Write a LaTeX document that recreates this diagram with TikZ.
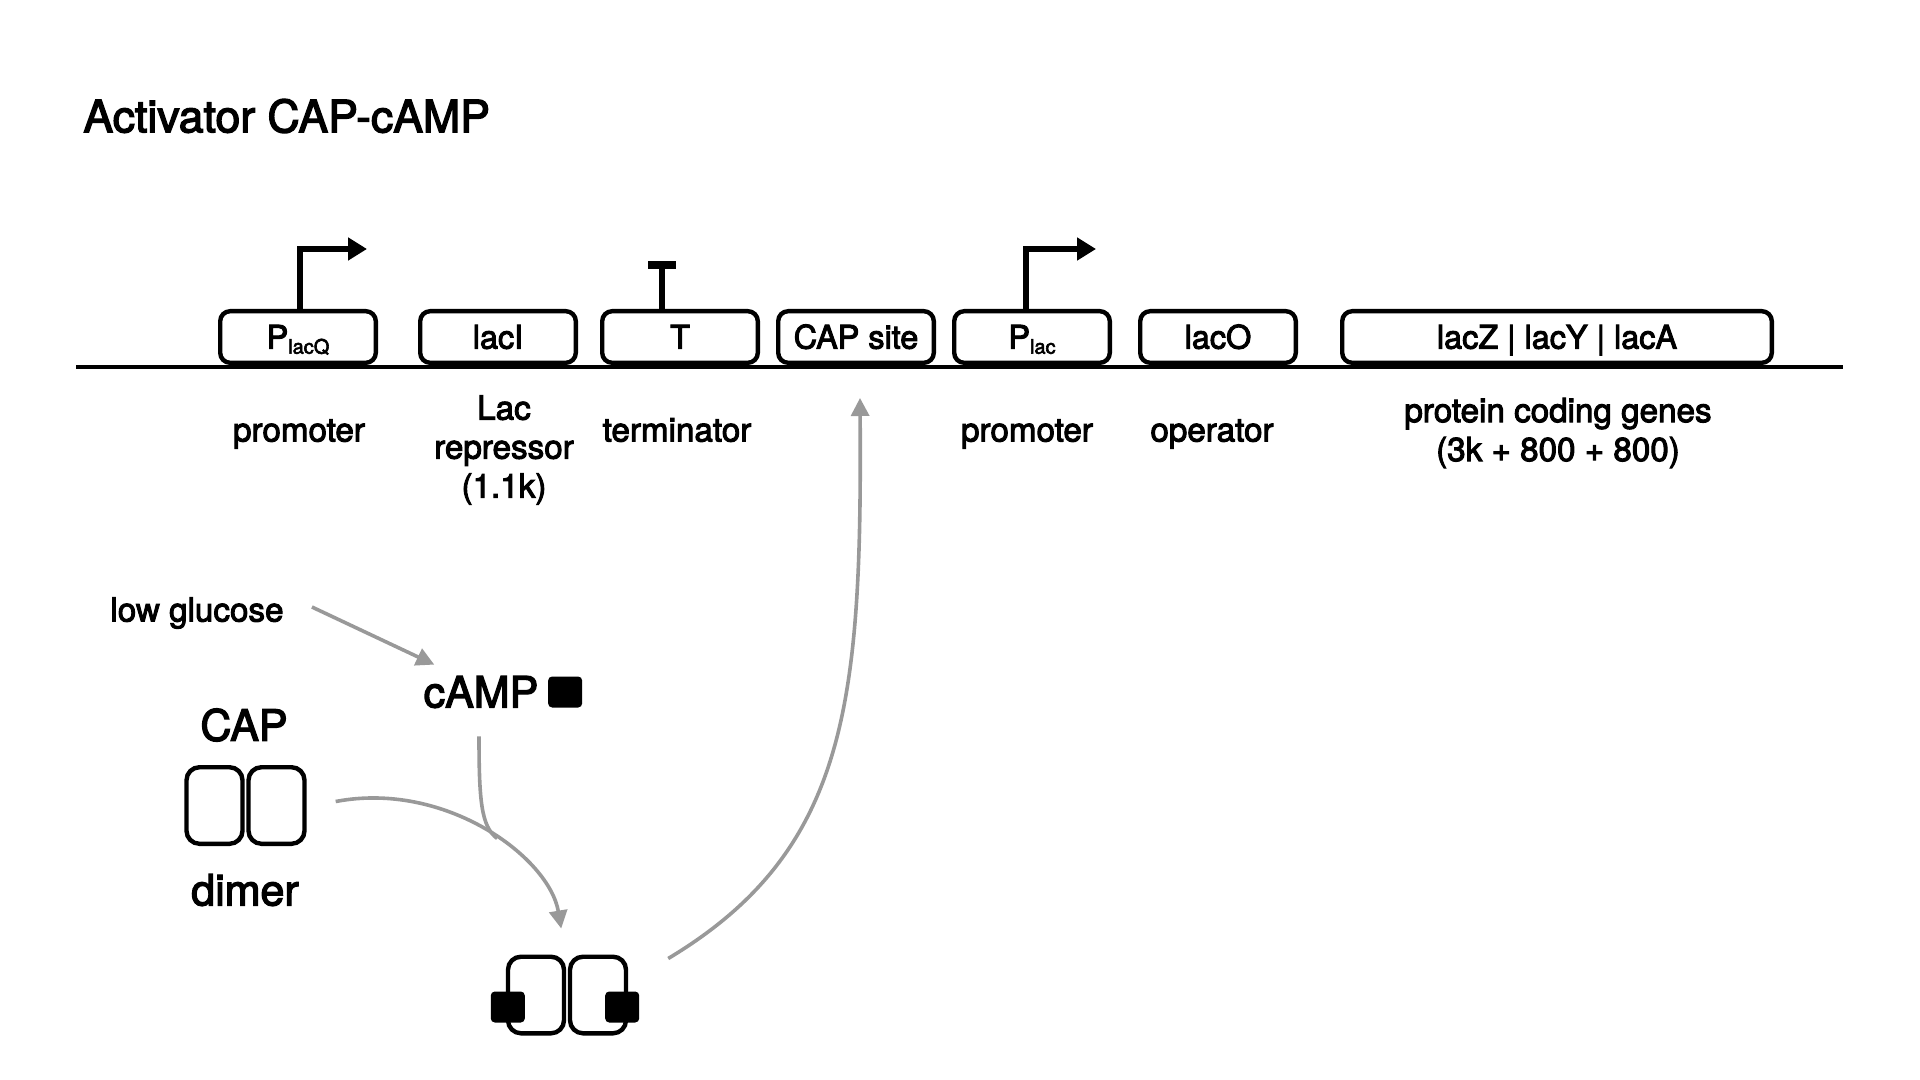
\documentclass[tikz,border=0pt]{standalone}
\usepackage{fontspec}
\setmainfont{TeX Gyre Heros}[FakeBold=3]
\usetikzlibrary{arrows.meta,positioning}

\begin{document}
\begin{tikzpicture}[
x=0.5pt, y=-0.5pt,
part/.style={draw, line width=2.2pt, rounded corners=5pt, fill=white, minimum width=77.8pt, minimum height=25.8pt, inner sep=0pt, text height=11.6pt, text depth=0pt, font=\fontsize{16.2}{19}\selectfont},
lbl/.style={align=center, inner sep=0pt, font=\fontsize{16.6}{19.5}\selectfont},
big/.style={inner sep=0pt, font=\fontsize{21.5}{24}\selectfont},
unit/.style={draw, line width=2.2pt, rounded corners=6.5pt, fill=white, minimum width=28pt, minimum height=38.3pt, inner sep=0pt},
ligand/.style={fill=black, rounded corners=2pt, minimum width=17pt, minimum height=15.5pt, inner sep=0pt},
prom/.style={line width=2.6pt, -{Triangle[length=9.5pt, width=11pt]}},
flow/.style={line width=1.8pt, draw=black!40, -{Triangle[length=9pt, width=9pt]}}
]
\useasboundingbox (0,0) rectangle (1920,1080);

\node[anchor=west, inner sep=0pt, font=\fontsize{22.3}{24}\selectfont] (title) at (83,116) {Activator CAP-cAMP};

% DNA strand with parts
\coordinate (dnaL) at (76,367);
\coordinate (dnaR) at (1843,367);
\draw[line width=1.6pt] (dnaL) -- (dnaR);

\node[part] (placq) at (298,337) {P\raisebox{-0.3ex}{\fontsize{10}{10}\selectfont lacQ}};
\node[part] (laci) at (498,337) {lacI};
\node[part] (term) at (680,337) {T};
\node[part] (capsite) at (856,337) {CAP site};
\node[part] (plac) at (1032,337) {P\raisebox{-0.3ex}{\fontsize{10}{10}\selectfont lac}};
\node[part] (laco) at (1218,337) {lacO};
\node[part, minimum width=214.8pt] (lacz) at (1557,337) {lacZ | lacY | lacA};

\draw[prom] ([xshift=1pt]placq.north) -- ++(0,-60) -- ++(67,0);
\draw[prom] ([xshift=-3pt]plac.north) -- ++(0,-60) -- ++(70,0);
\draw[line width=3.2pt] ([xshift=-9pt]term.north) -- ++(0,-44) coordinate (ttop);
\draw[line width=4pt] ([xshift=-7pt]ttop) -- ([xshift=7pt]ttop);

\node[lbl] (promlbl) at (299,434) {promoter};
\node[lbl] (replbl) at (504,450) {Lac\\repressor\\(1.1k)};
\node[lbl] (termlbl) at (677,430) {terminator};
\node[lbl] (placlbl) at (1027,434) {promoter};
\node[lbl] (oplbl) at (1212,434) {operator};
\node[lbl] (genelbl) at (1558,433) {protein coding genes\\(3k + 800 + 800)};

% signalling
\node[lbl] (glucose) at (197,613) {low glucose};
\node[big] (camp) at (481,692) {cAMP};
\node[ligand, right=4.5pt of camp] (campsq) {};

\node[big] (caplbl) at (244,725) {CAP};
\node[unit] (capL) at (214.5,805.5) {};
\node[unit, right=0.8pt of capL] (capR) {};
\node[big] (dimerlbl) at (245,890) {dimer};

\node[unit] (bndL) at (536,995) {};
\node[unit, right=0.8pt of bndL] (bndR) {};
\node[ligand] (sqL) at ([shift={(2,12)}]bndL.west) {};
\node[ligand] (sqR) at ([shift={(-6,12)}]bndR.east) {};

\draw[flow] ([shift={(28,-6)}]glucose.east) -- ([shift={(11,-11)}]camp.north west);
\draw[flow] ([shift={(29,-4)}]capR.east) .. controls +(110,-21) and +(-12,-71) .. ([shift={(-5,-26)}]bndL.north east) coordinate[pos=0.55] (join);
\draw[flow, -] ([shift={(-2,28)}]camp.south) .. controls +(0,64) and +(-16,-12) .. (join);
\draw[flow] ([shift={(40,4)}]bndR.north east) .. controls +(180,-108) and +(2,304) .. ([shift={(4,33)}]capsite.south);
\end{tikzpicture}
\end{document}
